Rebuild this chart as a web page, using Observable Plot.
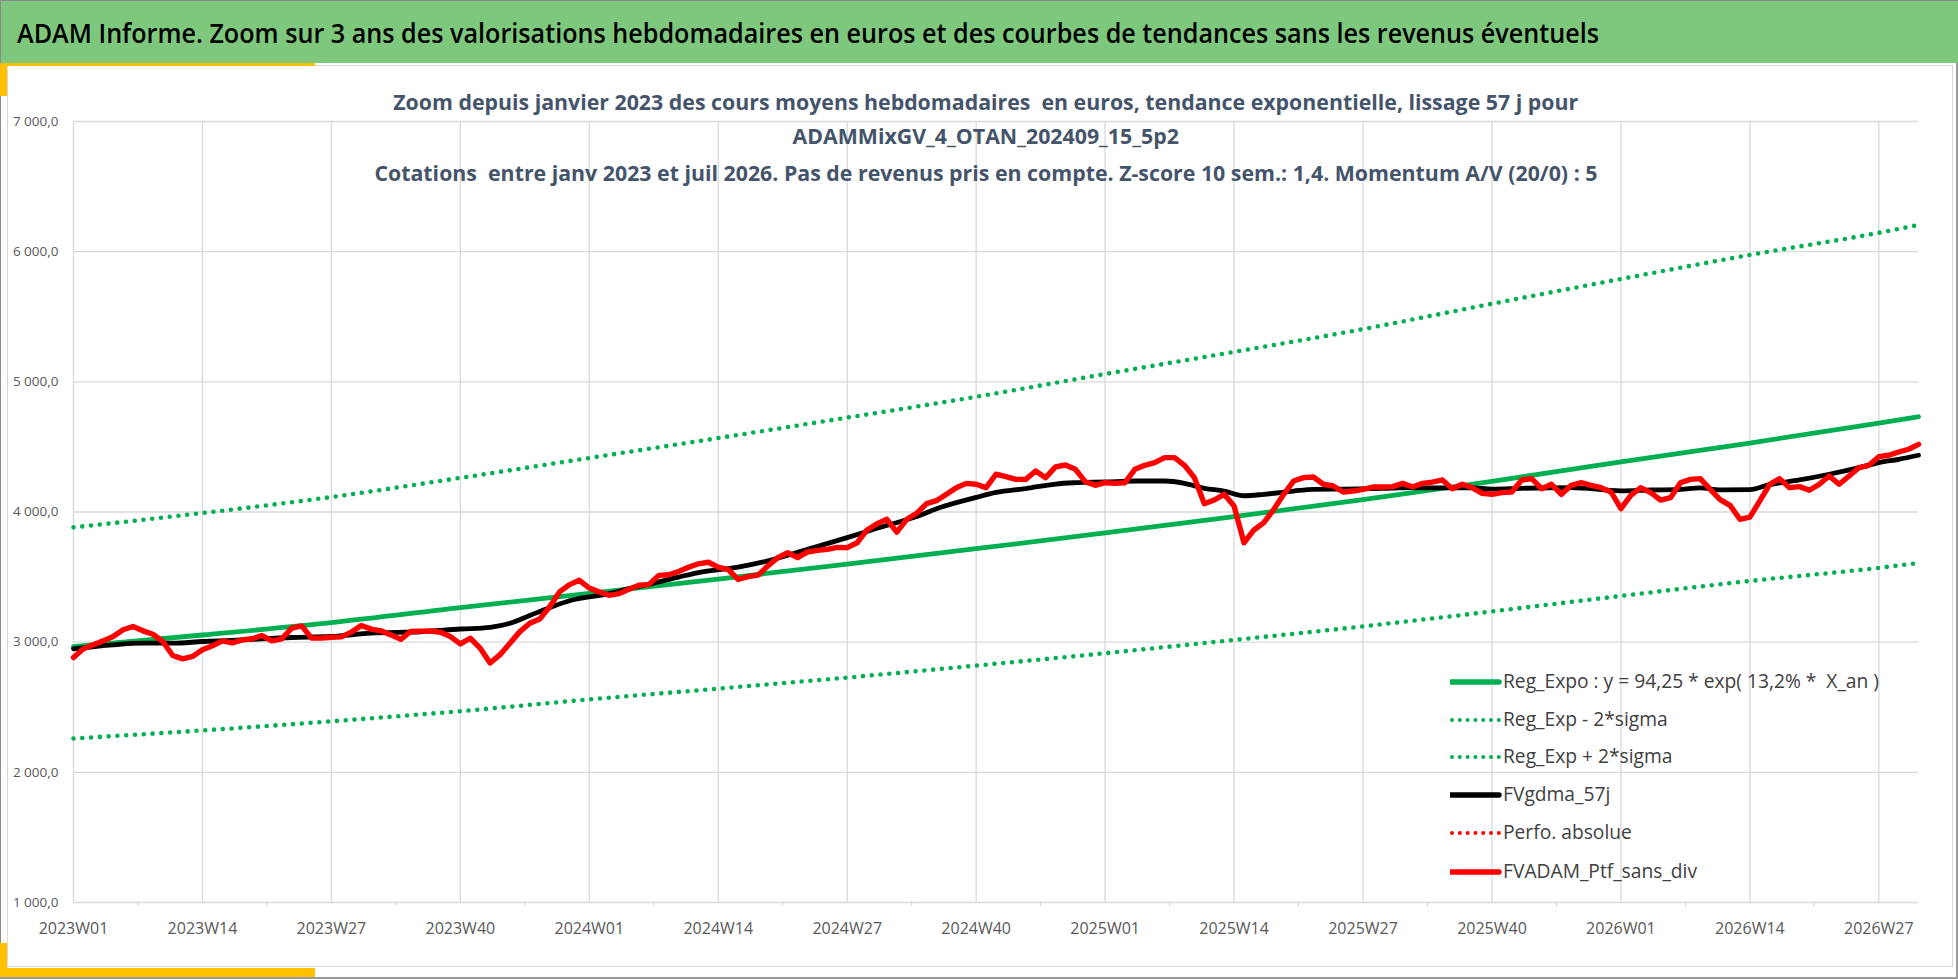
<!DOCTYPE html>
<html>
<head>
<meta charset="utf-8">
<script src="https://cdn.jsdelivr.net/npm/d3@7"></script>
<script src="https://cdn.jsdelivr.net/npm/@observablehq/plot@0.6"></script>
<style>
  html, body { margin: 0; padding: 0; background: #fff; }
  #page { position: relative; width: 1958px; height: 979px; overflow: hidden; background: #fff; font-family: "Open Sans", sans-serif; }
  #chart { position: absolute; left: 0; top: 0; }
  .deco { position: absolute; }
  .fit { display: inline-block; white-space: pre; }
  #titlebar { left: 0; top: 0; width: 1958px; height: 63px; background: #7ec87e; box-sizing: border-box; border-top: 1px solid #8a8a8a; border-left: 1px solid #8a8a8a; }
  #title { position: absolute; left: 16px; top: 12px; font-size: 27px; line-height: 40px; font-weight: 600; color: #000; }
  .sub { left: 0; width: 1972px; text-align: center; font-size: 20.5px; font-weight: 700; color: #44546a; line-height: 28px; }
  .leg { left: 1450px; height: 24px; }
  .leg svg { position: absolute; left: 0; top: 7px; }
  .leg .fit { position: absolute; left: 53px; top: -3px; font-size: 20px; line-height: 28px; color: #404040; }
</style>
</head>
<body>
<div id="page">
  <div id="chart"></div>
  <div class="deco" style="left:7px;top:65px;width:1946px;height:902px;border:1px solid #d9d9d9;box-sizing:border-box;pointer-events:none;"></div>
  <div class="deco" style="left:0;top:0;width:1px;height:979px;background:#8a8a8a;"></div>
  <div class="deco" style="left:1956px;top:0;width:2px;height:979px;background:#9a9a9a;"></div>
  <div class="deco" style="left:0;top:977px;width:1958px;height:2px;background:#9a9a9a;"></div>
  <div id="titlebar" class="deco"><span id="title" class="fit">ADAM Informe. Zoom sur 3 ans des valorisations hebdomadaires en euros et des courbes de tendances sans les revenus éventuels</span></div>
  <div class="deco" style="left:0;top:63px;width:315px;height:3px;background:#ffc000;"></div>
  <div class="deco" style="left:0;top:63px;width:7px;height:33px;background:#ffc000;"></div>
  <div class="deco" style="left:0;top:943px;width:7px;height:34px;background:#ffc000;"></div>
  <div class="deco" style="left:0;top:968px;width:315px;height:9px;background:#ffc000;"></div>
  <div class="deco sub" style="top:88px;"><span class="fit" id="s1">Zoom depuis janvier 2023 des cours moyens hebdomadaires  en euros, tendance exponentielle, lissage 57 j pour</span></div>
  <div class="deco sub" style="top:122px;"><span class="fit" id="s2">ADAMMixGV_4_OTAN_202409_15_5p2</span></div>
  <div class="deco sub" style="top:159px;"><span class="fit" id="s3">Cotations  entre janv 2023 et juil 2026. Pas de revenus pris en compte. Z-score 10 sem.: 1,4. Momentum A/V (20/0) : 5</span></div>
  <div id="legend"></div>
</div>
<script>
// ---------- DATA ----------
const years = [2023, 2024, 2025, 2026];
const nWeeks = 187; // 2023W01 .. 2026W31
const weeks = years.flatMap(y => d3.range(1, 53).map(w => `${y}W${String(w).padStart(2, "0")}`)).slice(0, nWeeks);

const tickLabels = ["2023W01","2023W14","2023W27","2023W40","2024W01","2024W14","2024W27","2024W40","2025W01","2025W14","2025W27","2025W40","2026W01","2026W14","2026W27"];
const yTicks = [1000, 2000, 3000, 4000, 5000, 6000, 7000];

// FVADAM_Ptf_sans_div (weekly)
const redValues = [
  2882,2949,2980,3010,3044,3095,3120,3087,3061,3005,2898,2872,2890,2941,2972,3010,2995,3018,3026,3051,
  3010,3026,3108,3125,3031,3031,3038,3041,3077,3128,3100,3087,3056,3022,3082,3085,3086,3076,3043,2987,
  3030,2954,2840,2904,2992,3081,3145,3178,3272,3386,3442,3475,3416,3386,3360,3373,3406,3437,3442,3513,
  3518,3543,3576,3602,3614,3576,3558,3482,3503,3515,3585,3649,3687,3649,3693,3705,3713,3728,3726,3764,
  3862,3910,3944,3846,3944,3990,4064,4087,4136,4187,4220,4213,4187,4290,4272,4251,4251,4315,4264,4346,
  4361,4328,4233,4205,4225,4220,4225,4328,4359,4379,4418,4418,4359,4264,4064,4092,4136,4046,3764,3862,
  3918,4020,4136,4238,4264,4269,4213,4200,4154,4161,4174,4192,4192,4195,4220,4192,4220,4230,4246,4179,
  4213,4187,4143,4136,4149,4154,4246,4256,4179,4213,4136,4205,4225,4205,4187,4154,4026,4128,4187,4149,
  4092,4110,4225,4251,4256,4174,4095,4051,3944,3960,4085,4213,4256,4187,4195,4167,4213,4277,4213,4277,
  4341,4359,4425,4436,4461,4482,4520
];

// FVgdma_57j (smoothed, read at selected weeks)
const blackWeeks = ["2023W01","2023W05","2023W08","2023W11","2023W14","2023W18","2023W23","2023W27","2023W31","2023W36",
  "2023W40","2023W43","2023W45","2023W47","2023W49","2023W51","2024W01","2024W03","2024W05","2024W07",
  "2024W10","2024W12","2024W16","2024W19","2024W23","2024W27","2024W30","2024W34","2024W36","2024W40",
  "2024W42","2024W45","2024W48","2024W50","2025W01","2025W04","2025W07","2025W09","2025W11","2025W13",
  "2025W15","2025W17","2025W20","2025W22","2025W25","2025W29","2025W32","2025W35","2025W38","2025W40",
  "2025W43","2025W48","2026W01","2026W04","2026W07","2026W09","2026W11","2026W14","2026W16","2026W19",
  "2026W22","2026W25","2026W27","2026W29","2026W31"];
const blackValues = [2949,2980,2992,2992,3005,3018,3036,3044,3069,3080,
  3101,3114,3145,3205,3265,3318,3348,3373,3411,3445,
  3500,3535,3577,3625,3713,3803,3875,3965,4025,4112,
  4150,4180,4215,4225,4231,4238,4238,4220,4182,4161,
  4125,4136,4161,4174,4176,4182,4187,4185,4185,4176,
  4182,4187,4163,4169,4174,4185,4170,4172,4210,4246,
  4290,4341,4379,4405,4436];

// Regression lines (read at quarterly weeks)
const trendWeeks = ["2023W01","2023W14","2023W27","2023W40","2024W01","2024W14","2024W27","2024W40","2025W01","2025W14","2025W27","2025W40","2026W01","2026W14","2026W27","2026W31"];
const trendMid   = [2965,3055,3150,3265,3375,3485,3600,3718,3840,3965,4095,4235,4386,4530,4683,4732];
const trendUpper = [3882,3992,4115,4262,4415,4568,4725,4885,5060,5230,5405,5600,5790,5975,6145,6205];
const trendLower = [2260,2322,2392,2470,2560,2643,2728,2820,2915,3017,3121,3236,3355,3470,3571,3608];

const legendItems = [
  {label: "Reg_Expo : y = 94,25 * exp( 13,2% *  X_an )", color: "#00b050", dotted: false},
  {label: "Reg_Exp - 2*sigma", color: "#00b050", dotted: true},
  {label: "Reg_Exp + 2*sigma", color: "#00b050", dotted: true},
  {label: "FVgdma_57j", color: "#000000", dotted: false},
  {label: "Perfo. absolue", color: "#ff0000", dotted: true},
  {label: "FVADAM_Ptf_sans_div", color: "#ff0000", dotted: false}
];

// ---------- BUILD ----------
const idx = w => weeks.indexOf(w);
const red = redValues.map((v, i) => ({i, v}));
const black = blackWeeks.map((w, k) => ({i: idx(w), v: blackValues[k]}));
const mkTrend = arr => trendWeeks.map((w, k) => ({i: idx(w), v: arr[k]}));
const tickIdx = tickLabels.map(idx);
const midIdx = tickIdx.map(i => i + 6.5).filter(i => i < nWeeks - 1);

const fr = d3.formatLocale({decimal: ",", thousands: "\u00a0", grouping: [3], currency: ["", ""]}).format(",.1f");
const GREEN = "#00b050";

const chart = Plot.plot({
  width: 1958,
  height: 979,
  marginLeft: 73,
  marginRight: 40,
  marginTop: 121,
  marginBottom: 77,
  style: {fontFamily: '"Open Sans", sans-serif', fontSize: "14px", color: "#595959", background: "transparent"},
  x: {type: "linear", domain: [0, nWeeks - 1], label: null},
  y: {domain: [1000, 7000], label: null},
  marks: [
    Plot.gridY(yTicks, {stroke: "#d9d9d9", strokeOpacity: 1, strokeWidth: 1.3}),
    Plot.gridX(tickIdx, {stroke: "#d9d9d9", strokeOpacity: 1, strokeWidth: 1.3}),
    Plot.axisX(midIdx, {tickSize: 4, tickFormat: () => "", stroke: "#cfcfcf"}),
    Plot.axisX(tickIdx, {tickSize: 0, tickPadding: 20, tickFormat: i => weeks[i], fontSize: 16, fill: "#595959"}),
    Plot.axisY(yTicks, {tickSize: 0, tickPadding: 15, tickFormat: fr, fontSize: 13.5, fill: "#595959"}),
    Plot.lineY(mkTrend(trendUpper), {x: "i", y: "v", stroke: GREEN, strokeWidth: 4.6, strokeDasharray: "0 8.8", strokeLinecap: "round", curve: "monotone-x"}),
    Plot.lineY(mkTrend(trendLower), {x: "i", y: "v", stroke: GREEN, strokeWidth: 4.6, strokeDasharray: "0 8.8", strokeLinecap: "round", curve: "monotone-x"}),
    Plot.lineY(mkTrend(trendMid), {x: "i", y: "v", stroke: GREEN, strokeWidth: 4.8, curve: "monotone-x"}),
    Plot.lineY(black, {x: "i", y: "v", stroke: "#000", strokeWidth: 4.8, curve: "monotone-x", strokeLinejoin: "round"}),
    Plot.lineY(red, {x: "i", y: "v", stroke: "#ff0000", strokeWidth: 5.4, strokeLinejoin: "round", strokeLinecap: "round"})
  ]
});
document.getElementById("chart").appendChild(chart);

// Legend
const legendTops = [682, 720, 757, 795, 833, 872];
const legend = d3.select("#legend");
legendItems.forEach((d, k) => {
  const row = legend.append("div").attr("class", "deco leg").style("top", (legendTops[k] - 12) + "px");
  const svg = row.append("svg").attr("width", 52).attr("height", 10);
  if (d.dotted) {
    svg.append("line").attr("x1", 2).attr("x2", 50).attr("y1", 5).attr("y2", 5)
      .attr("stroke", d.color).attr("stroke-width", 4).attr("stroke-linecap", "round").attr("stroke-dasharray", "0 7.8");
  } else {
    svg.append("line").attr("x1", 1).attr("x2", 49).attr("y1", 5).attr("y2", 5)
      .attr("stroke", d.color).attr("stroke-width", 5.5).attr("stroke-linecap", "round");
  }
  row.append("span").attr("class", "fit leglab").text(d.label);
});

function fit(el, target, origin) {
  el.style.transform = "none";
  const w = el.getBoundingClientRect().width;
  el.style.transformOrigin = origin;
  el.style.transform = `scaleX(${target / w})`;
  return target / w;
}
function doFit() {
  fit(document.getElementById("title"), 1582, "left center");
  const s = fit(document.getElementById("s3"), 1223, "center center");
  for (const id of ["s1", "s2"]) {
    const el = document.getElementById(id);
    el.style.transformOrigin = "center center";
    el.style.transform = `scaleX(${s})`;
  }
  const labs = document.querySelectorAll(".leglab");
  const ls = fit(labs[0], 376, "left center");
  labs.forEach((el, k) => { if (k) { el.style.transformOrigin = "left center"; el.style.transform = `scaleX(${ls})`; } });
}
doFit();
if (document.fonts && document.fonts.ready) document.fonts.ready.then(doFit);
</script>
</body>
</html>
